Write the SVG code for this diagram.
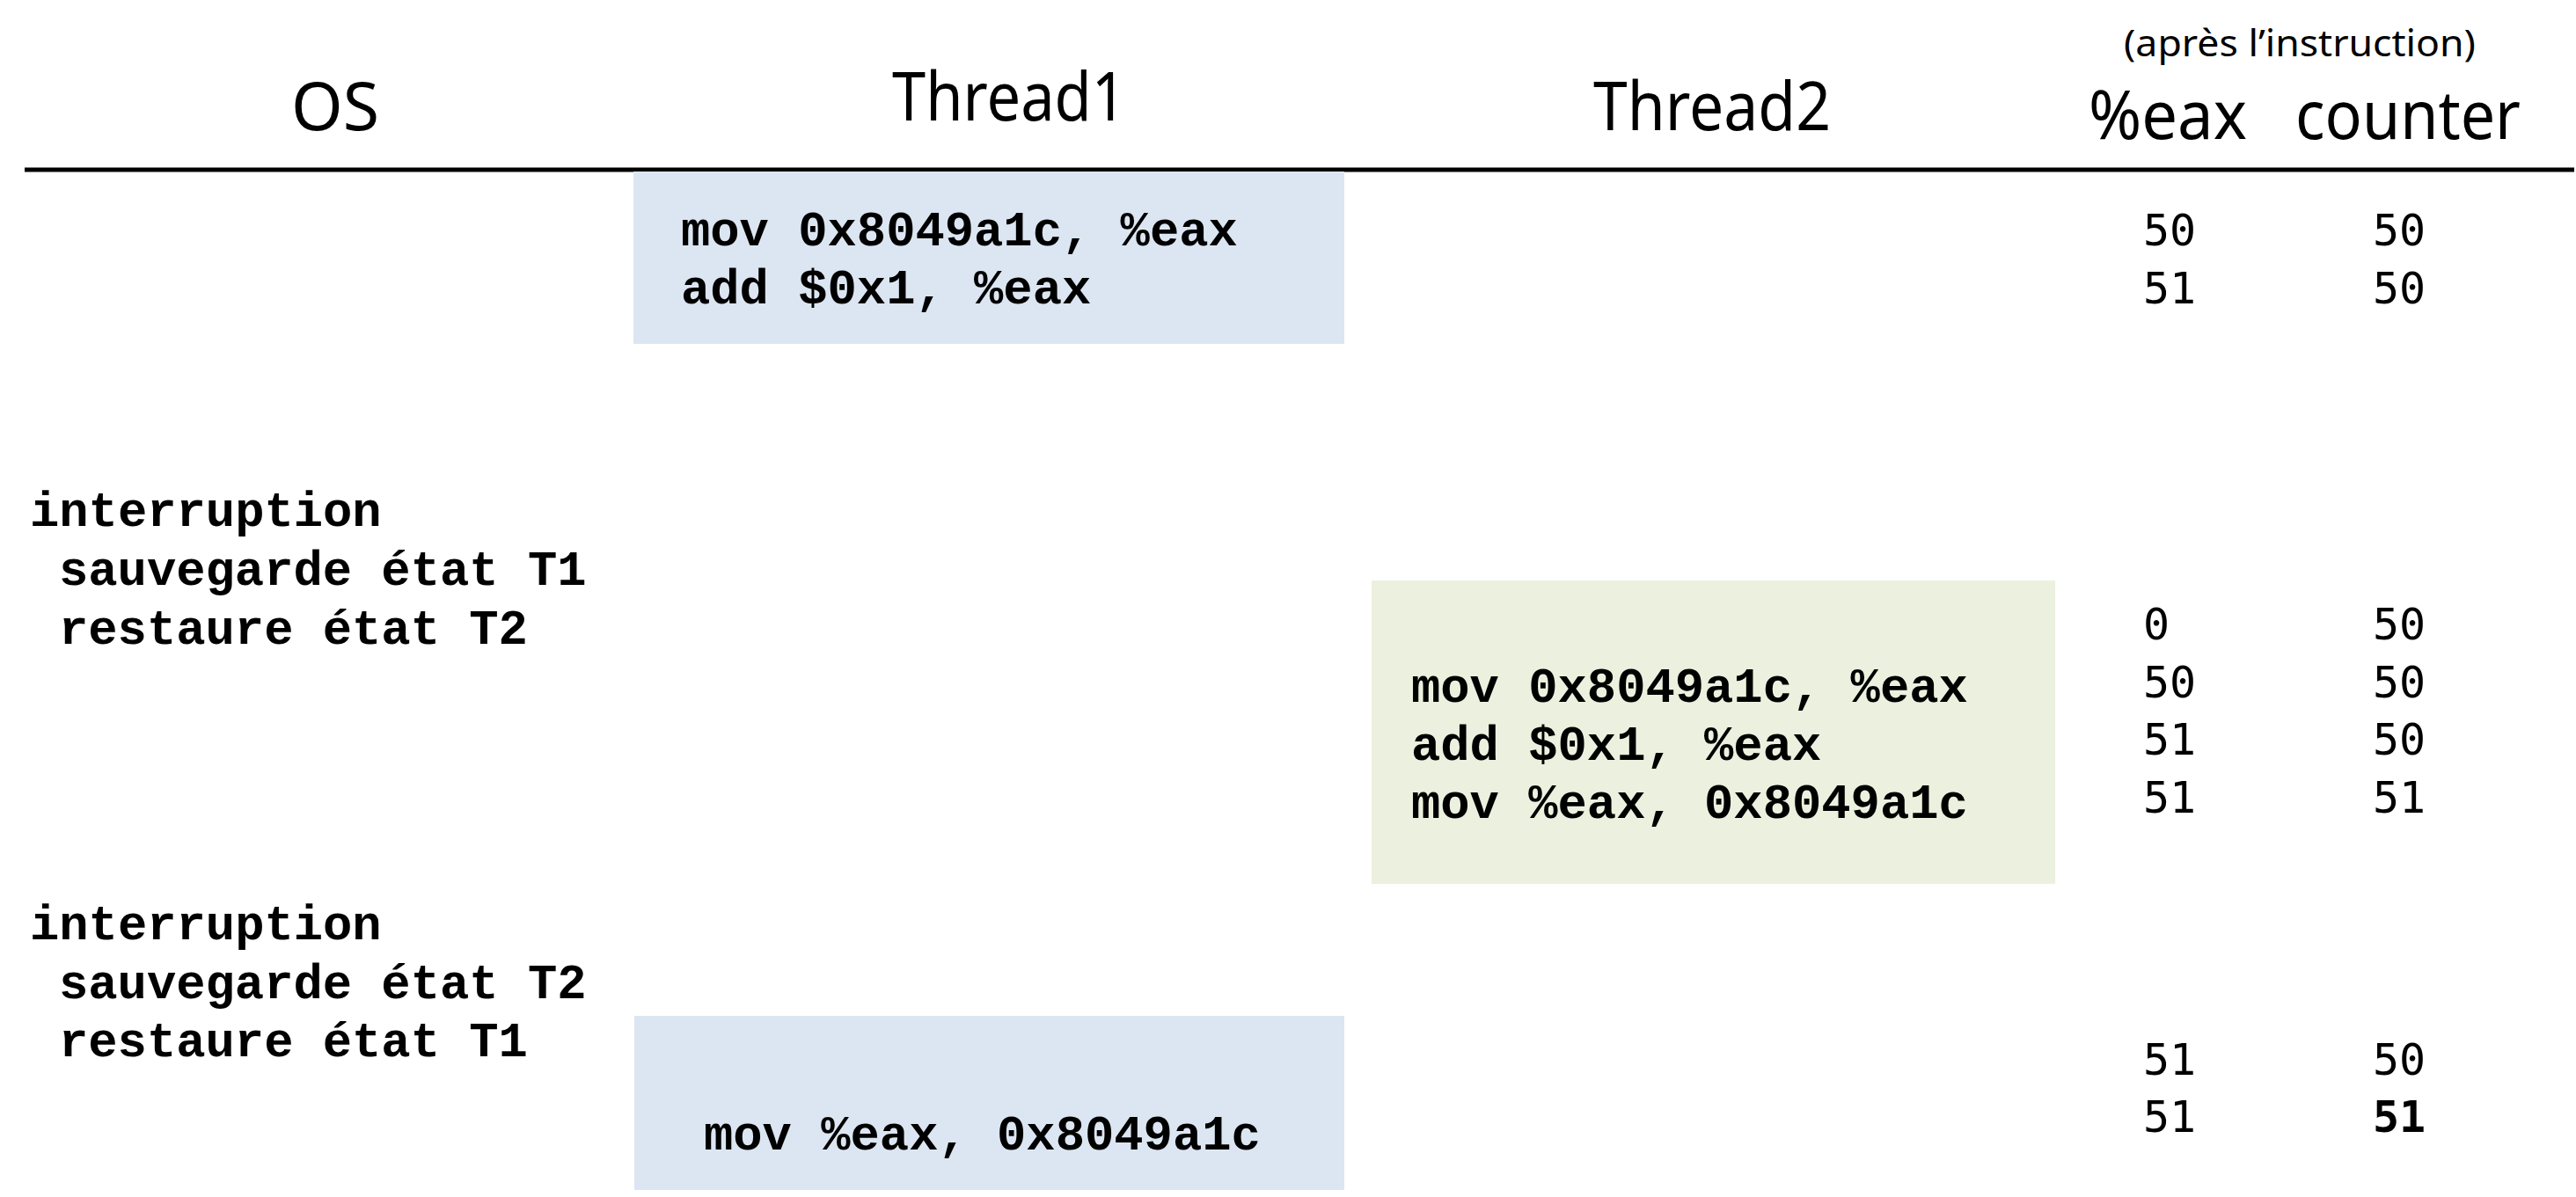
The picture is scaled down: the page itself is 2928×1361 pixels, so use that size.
<svg xmlns="http://www.w3.org/2000/svg" width="2928" height="1361" viewBox="0 0 2928 1361">
  <style>
    .head { font-family: "Noto Sans", "Open Sans", sans-serif; font-size: 76px; fill: #000; text-anchor: middle; }
    .note { font-family: "Noto Sans", "Open Sans", sans-serif; font-size: 42px; fill: #000; text-anchor: middle; }
    .code { font-family: "Liberation Mono", "Courier New", monospace; font-size: 55.5px; font-weight: bold; fill: #000; }
    .num  { font-family: "DejaVu Sans Mono", monospace; font-size: 50px; fill: #000; }
    .t1 { fill: #DCE6F2; }
    .t2 { fill: #EBF1DE; }
  </style>

  <rect width="2928" height="1361" fill="#FFFFFF"/>

  <!-- column headers -->
  <g id="headers">
    <text class="head" x="381" y="148" textLength="100" lengthAdjust="spacingAndGlyphs">OS</text>
    <text class="head" x="1147" y="137" textLength="266" lengthAdjust="spacingAndGlyphs">Thread1</text>
    <text class="head" x="1946" y="148" textLength="270" lengthAdjust="spacingAndGlyphs">Thread2</text>
    <text class="note" x="2614" y="64" textLength="400" lengthAdjust="spacingAndGlyphs">(après l’instruction)</text>
    <text class="head" x="2464" y="158" textLength="180" lengthAdjust="spacingAndGlyphs">%eax</text>
    <text class="head" x="2737" y="158" textLength="256" lengthAdjust="spacingAndGlyphs">counter</text>
  </g>

  <!-- header rule -->
  <g id="rule">
    <line x1="28" y1="193" x2="2926" y2="193" stroke="#000" stroke-width="5"/>
  </g>

  <!-- Thread1: first slice -->
  <g id="t1-first">
    <rect class="t1" x="720" y="195" width="808" height="196"/>
    <text class="code" x="774" y="279">mov 0x8049a1c, %eax</text>
    <text class="code" x="774" y="345">add $0x1, %eax</text>
  </g>

  <!-- OS: switch T1 -> T2 -->
  <g id="os-switch-1">
    <text class="code" x="34" y="598">interruption</text>
    <text class="code" x="67" y="665">sauvegarde état T1</text>
    <text class="code" x="67" y="732">restaure état T2</text>
  </g>

  <!-- Thread2 -->
  <g id="t2">
    <rect class="t2" x="1559" y="660" width="777" height="345"/>
    <text class="code" x="1604" y="798">mov 0x8049a1c, %eax</text>
    <text class="code" x="1604" y="864">add $0x1, %eax</text>
    <text class="code" x="1604" y="930">mov %eax, 0x8049a1c</text>
  </g>

  <!-- OS: switch T2 -> T1 -->
  <g id="os-switch-2">
    <text class="code" x="34" y="1068">interruption</text>
    <text class="code" x="67" y="1135">sauvegarde état T2</text>
    <text class="code" x="67" y="1201">restaure état T1</text>
  </g>

  <!-- Thread1: resumed -->
  <g id="t1-second">
    <rect class="t1" x="721" y="1155" width="807" height="198"/>
    <text class="code" x="800" y="1307">mov %eax, 0x8049a1c</text>
  </g>

  <!-- register / memory values after each instruction -->
  <g id="values">
    <text class="num" x="2436" y="279">50</text>
    <text class="num" x="2697" y="279">50</text>
    <text class="num" x="2436" y="345">51</text>
    <text class="num" x="2697" y="345">50</text>

    <text class="num" x="2436" y="727">0</text>
    <text class="num" x="2697" y="727">50</text>
    <text class="num" x="2436" y="793">50</text>
    <text class="num" x="2697" y="793">50</text>
    <text class="num" x="2436" y="858">51</text>
    <text class="num" x="2697" y="858">50</text>
    <text class="num" x="2436" y="924">51</text>
    <text class="num" x="2697" y="924">51</text>

    <text class="num" x="2436" y="1222">51</text>
    <text class="num" x="2697" y="1222">50</text>
    <text class="num" x="2436" y="1287">51</text>
    <text class="num" x="2697" y="1287" font-weight="bold">51</text>
  </g>

  <!-- no connectors in this chart -->
  <g id="connectors"/>
</svg>
